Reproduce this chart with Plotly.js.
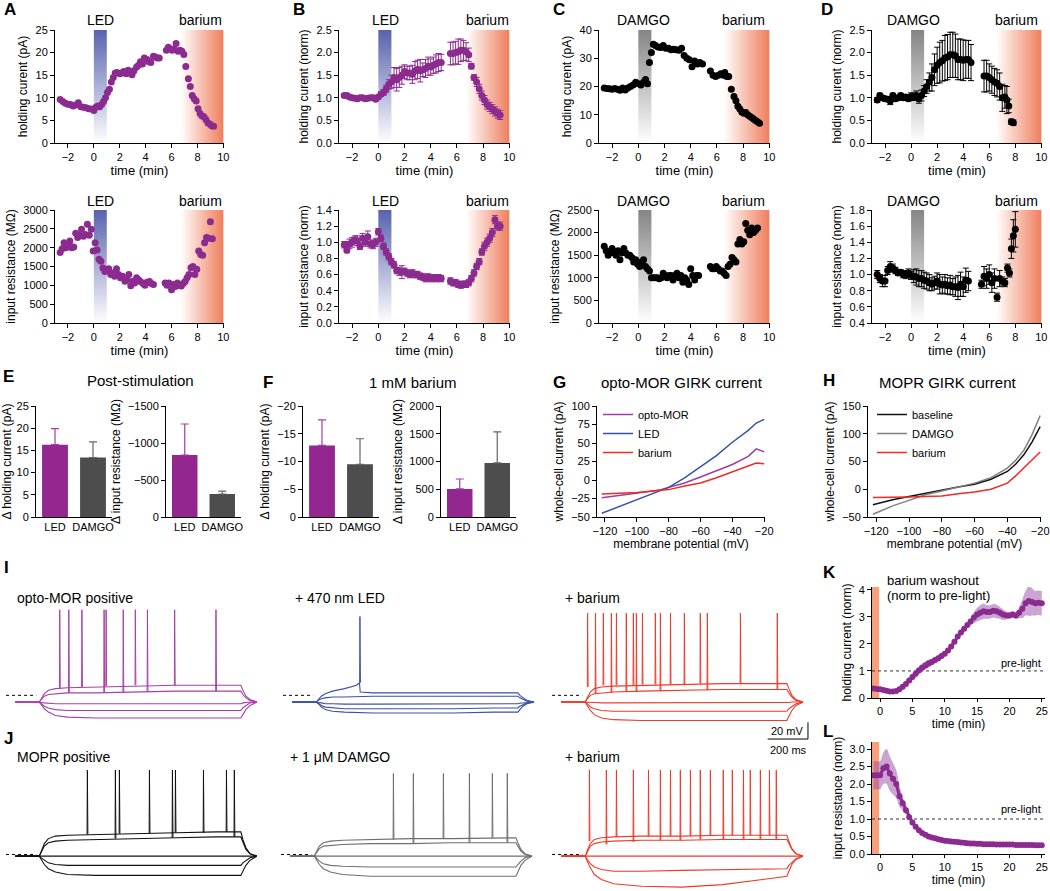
<!DOCTYPE html>
<html><head><meta charset="utf-8">
<script src="https://cdn.plot.ly/plotly-3.0.1.min.js"></script>
<style>html,body{margin:0;padding:0;background:#fff}#chart{width:1050px;height:891px}</style>
</head><body><div id="chart"></div>
<script>
// ---------------- DATA ----------------
// Panel A (single cell, opto-MOR + LED)
const aTopT = [-2.6,-2.4,-2.2,-2.0,-1.8,-1.6,-1.4,-1.2,-1.0,-0.8,-0.6,-0.4,-0.2,0.0,0.15,0.3,0.45,0.6,0.75,0.9,1.05,1.2,1.35,1.5,1.65,1.8,2.0,2.15,2.3,2.5,2.65,2.8,2.95,3.1,3.3,3.45,3.6,3.75,3.9,4.1,4.25,4.4,4.6,4.75,4.9,5.05,5.6,5.75,5.9,6.05,6.2,6.35,6.5,6.65,6.8,6.95,7.1,7.3,7.45,7.6,7.75,7.9,8.05,8.2,8.35,8.5,8.65,8.8,8.95,9.1,9.25];
const aTopHolding = [9.6,9.2,8.8,8.6,8.5,8.2,8.4,8.9,8.0,7.9,7.8,7.6,7.5,7.2,7.9,8.2,8.0,8.5,9.2,10.0,11.2,11.9,13.5,14.5,15.5,15.6,15.3,15.5,15.8,15.3,16.1,15.8,15.1,16.0,16.8,17.2,18.0,17.5,18.8,18.5,18.0,17.8,19.2,19.0,18.8,18.8,20.5,21.2,20.8,20.5,20.8,22.0,20.3,20.5,20.3,19.6,16.9,14.2,12.5,10.5,9.8,9.3,7.6,6.5,6.0,5.8,5.2,4.5,4.2,3.8,3.7];
const aBotT = [-2.6,-2.45,-2.3,-2.15,-2.0,-1.85,-1.7,-1.55,-1.4,-1.25,-1.1,-0.95,-0.8,-0.65,-0.5,-0.35,-0.2,-0.05,0.1,0.25,0.4,0.55,0.7,0.85,1.0,1.15,1.3,1.45,1.6,1.75,1.9,2.05,2.2,2.4,2.55,2.7,2.85,3.0,3.15,3.3,3.45,3.6,3.8,3.95,4.1,4.3,4.45,4.6,5.5,5.65,5.8,6.0,6.15,6.3,6.45,6.6,6.75,6.9,7.05,7.2,7.35,7.5,7.65,7.8,7.95,8.1,8.25,8.4,8.55,8.7,8.85,9.0,9.15];
const aBotRes = [1870,1970,2130,2000,2040,2180,2000,2020,2380,2270,2330,2490,2300,2350,2620,2330,2490,1910,2130,1940,1690,1640,1460,1370,1400,1440,1290,1330,1240,1440,1290,1200,1240,1110,1150,1290,990,1110,1060,1200,1150,1100,1050,1000,1080,1100,1050,1020,1060,1000,1060,880,1020,970,1060,1000,980,1050,1100,1200,1290,1470,1500,1290,1430,1910,1820,1800,2130,2270,2250,2690,2240];

// Panel B (group mean +/- SEM, opto-MOR)
const bT = [-2.6,-2.4,-2.2,-2.0,-1.8,-1.6,-1.4,-1.2,-1.0,-0.8,-0.6,-0.4,-0.2,0.0,0.2,0.4,0.6,0.8,1.0,1.2,1.4,1.6,1.8,2.0,2.2,2.4,2.6,2.8,3.0,3.2,3.4,3.6,3.8,4.0,4.2,4.4,4.6,4.8,5.5,5.7,5.9,6.1,6.3,6.5,6.7,6.9,7.1,7.3,7.5,7.7,7.9,8.1,8.3,8.5,8.7,8.9,9.1,9.3];
const bTopMean = [1.05,1.05,1.02,1.0,0.99,0.98,1.0,1.0,0.98,0.99,1.0,1.0,0.97,1.02,1.08,1.12,1.2,1.3,1.35,1.45,1.4,1.45,1.5,1.58,1.55,1.55,1.52,1.6,1.63,1.6,1.62,1.65,1.7,1.68,1.72,1.75,1.78,1.78,1.98,1.98,2.0,2.02,2.05,2.05,2.02,1.95,1.7,1.45,1.35,1.2,1.05,0.95,0.85,0.8,0.75,0.7,0.65,0.62];
const bTopSem = [0.03,0.03,0.03,0.03,0.03,0.03,0.03,0.03,0.03,0.03,0.03,0.03,0.03,0.04,0.05,0.06,0.08,0.1,0.15,0.22,0.25,0.22,0.2,0.15,0.15,0.15,0.2,0.2,0.2,0.25,0.15,0.2,0.2,0.18,0.18,0.2,0.2,0.18,0.25,0.25,0.25,0.28,0.25,0.22,0.2,0.15,0.06,0.06,0.1,0.1,0.1,0.1,0.1,0.1,0.1,0.1,0.1,0.1];
const bBotMean = [0.97,0.9,0.98,1.0,1.03,1.02,0.95,1.05,1.0,1.07,0.98,0.97,1.0,1.13,1.05,0.95,0.88,0.82,0.76,0.72,0.65,0.64,0.63,0.64,0.62,0.6,0.62,0.6,0.6,0.58,0.57,0.55,0.57,0.55,0.56,0.55,0.56,0.55,0.52,0.5,0.5,0.48,0.47,0.48,0.48,0.5,0.55,0.62,0.7,0.76,0.88,0.95,1.0,1.05,1.12,1.28,1.2,1.2];
const bBotSem = [0.04,0.03,0.06,0.06,0.05,0.06,0.04,0.06,0.05,0.07,0.05,0.05,0.05,0.04,0.04,0.04,0.04,0.04,0.04,0.04,0.04,0.05,0.08,0.04,0.04,0.04,0.04,0.04,0.04,0.04,0.04,0.04,0.04,0.04,0.04,0.04,0.04,0.04,0.04,0.04,0.04,0.04,0.04,0.04,0.04,0.04,0.04,0.04,0.04,0.04,0.04,0.05,0.05,0.05,0.05,0.05,0.05,0.05];

// Panel C (single cell, MOPR + DAMGO)
const cTopT = [-2.6,-2.4,-2.2,-2.0,-1.8,-1.6,-1.4,-1.2,-1.0,-0.8,-0.6,-0.4,-0.2,0.0,0.2,0.4,0.55,0.7,0.85,1.0,1.15,1.3,1.5,1.7,1.9,2.1,2.3,2.5,2.7,2.9,3.1,3.3,3.5,3.7,3.9,4.1,4.3,4.5,4.7,4.9,5.5,5.7,5.9,6.1,6.3,6.5,6.6,6.75,6.9,7.1,7.3,7.45,7.6,7.75,7.9,8.05,8.2,8.35,8.5,8.65,8.8,8.95,9.1,9.25];
const cTopHolding = [19.5,19.3,19.2,19.0,19.3,19.0,18.7,19.5,18.8,19.5,20.0,20.5,21.5,21.0,20.5,21.5,22.5,21.0,28.5,32.0,35.0,34.5,34.0,33.8,34.5,33.5,33.5,33.0,33.2,33.0,32.8,33.5,31.0,30.0,29.5,27.0,29.0,28.0,28.5,28.0,25.5,24.0,23.5,24.0,24.5,24.0,25.0,23.5,23.5,19.0,16.5,15.0,13.0,12.0,11.0,10.5,10.8,10.0,9.5,9.0,8.5,8.0,7.5,7.0];
const cBotT = [-2.6,-2.45,-2.3,-2.15,-2.0,-1.85,-1.7,-1.55,-1.4,-1.25,-1.1,-0.95,-0.8,-0.65,-0.5,-0.35,-0.2,-0.05,0.1,0.25,0.4,0.55,0.7,0.85,1.0,1.15,1.3,1.45,1.6,1.75,1.9,2.05,2.2,2.35,2.5,2.65,2.8,2.95,3.1,3.25,3.4,3.55,3.7,3.85,4.0,4.15,4.3,4.45,4.6,5.5,5.65,5.8,5.95,6.1,6.25,6.4,6.55,6.7,6.85,7.0,7.15,7.3,7.45,7.6,7.75,7.9,8.05,8.2,8.35,8.5,8.65,8.8,8.95,9.1];
const cBotRes = [1700,1600,1500,1550,1650,1550,1500,1600,1400,1550,1650,1550,1500,1500,1450,1350,1400,1300,1250,1350,1400,1250,1200,1150,1000,1000,1000,1000,980,1000,1100,1050,1000,1050,1050,950,1050,1100,1000,1050,900,1000,950,850,1200,1050,950,1050,1050,1250,1200,1200,1250,1200,1150,1150,1100,1050,1250,1300,1450,1400,1350,1750,1850,1750,1800,2200,2050,1950,2100,2000,2050,2100];

// Panel D (group mean +/- SEM, MOPR)
const dTopT = [-2.6,-2.4,-2.2,-2.0,-1.8,-1.6,-1.4,-1.2,-1.0,-0.8,-0.6,-0.4,-0.2,0.0,0.2,0.4,0.6,0.8,1.0,1.2,1.4,1.6,1.8,2.0,2.2,2.4,2.6,2.8,3.0,3.2,3.4,3.6,3.8,4.0,4.2,4.4,4.6,5.6,5.8,6.0,6.2,6.4,6.6,6.8,7.0,7.2,7.35,7.5,7.7,7.85];
const dTopMean = [0.95,1.05,1.0,0.98,0.97,0.93,1.05,0.98,1.0,1.05,1.0,1.02,0.98,1.03,1.02,1.05,0.98,1.05,1.15,1.25,1.35,1.45,1.62,1.72,1.78,1.82,1.88,1.9,1.95,1.95,1.93,1.85,1.85,1.83,1.85,1.85,1.78,1.48,1.48,1.45,1.4,1.35,1.32,1.25,1.0,1.02,0.95,0.82,0.47,0.45];
const dTopSem = [0.05,0.05,0.05,0.05,0.05,0.08,0.05,0.05,0.05,0.05,0.05,0.05,0.05,0.08,0.08,0.1,0.1,0.12,0.12,0.15,0.2,0.3,0.35,0.4,0.45,0.45,0.5,0.5,0.5,0.5,0.48,0.45,0.45,0.45,0.42,0.42,0.4,0.35,0.35,0.3,0.3,0.3,0.3,0.3,0.3,0.25,0.3,0.15,0.06,0.06];
const dBotT = [-2.6,-2.4,-2.2,-2.0,-1.8,-1.6,-1.4,-1.2,-1.0,-0.8,-0.6,-0.4,-0.2,0.0,0.2,0.4,0.6,0.8,1.0,1.2,1.4,1.6,1.8,2.0,2.2,2.4,2.6,2.8,3.0,3.2,3.4,3.6,3.8,4.0,4.2,4.4,5.4,5.6,5.8,6.0,6.2,6.4,6.6,6.8,7.0,7.2,7.4,7.55,7.7,7.85,8.0];
const dBotMean = [1.0,0.95,0.92,0.92,1.05,1.1,1.08,1.05,1.02,1.03,1.0,1.0,1.02,0.99,0.98,0.97,0.95,0.95,0.93,0.92,0.9,0.88,0.9,0.92,0.88,0.87,0.88,0.86,0.87,0.85,0.85,0.84,0.88,0.85,0.93,0.92,0.88,0.98,0.95,1.0,0.9,0.95,0.72,0.95,0.92,0.9,1.08,1.02,1.32,1.48,1.56];
const dBotSem = [0.05,0.05,0.07,0.07,0.05,0.06,0.05,0.04,0.03,0.03,0.04,0.05,0.05,0.05,0.08,0.1,0.1,0.1,0.1,0.1,0.1,0.08,0.08,0.1,0.12,0.1,0.12,0.1,0.12,0.1,0.12,0.15,0.15,0.12,0.15,0.12,0.05,0.12,0.12,0.12,0.12,0.12,0.05,0.1,0.05,0.05,0.05,0.05,0.12,0.2,0.22];

// Treatment windows (min)
const stimWindow = [0, 1];
const bariumWindowAB = [6.7, 10];
const bariumWindowCD = [6.5, 10];

// Panels E, F (bar summaries)
const barCats = ['LED', 'DAMGO'];
const eHoldMean = [16.3, 13.4], eHoldErr = [3.6, 3.5];
const eResMean = [-838, -311], eResErr = [419, 40];
const fHoldMean = [-12.9, -9.5], fHoldErr = [4.6, 4.6];
const fResMean = [505, 975], fResErr = [180, 560];

// Panels G, H (I-V curves)
const gV = [-122,-110,-100,-90,-85,-80,-70,-60,-50,-40,-30,-25,-20];
const gOpto = [-24,-21,-18,-15,-13,-10,-4,4,12,21,32,42,38];
const gLED = [-45,-35,-27,-19,-15,-10,3,18,33,51,67,77,82];
const gBarium = [-19,-18,-17,-15,-14,-13,-8,-4,3,11,18,23,22];
const hV = [-122,-110,-100,-90,-80,-70,-60,-50,-40,-35,-30,-25,-20];
const hBaseline = [-28,-19,-13,-7,-1,4,9,18,32,45,62,85,113];
const hDAMGO = [-45,-30,-20,-10,-3,4,11,21,38,52,70,98,133];
const hBarium = [-15,-15,-14,-13,-12,-8,-5,0,11,24,38,52,67];

// Panels K, L (barium washout, mean +/- SEM)
const klT = [-1,-0.5,0,0.5,1,1.5,2,2.5,3,3.5,4,4.5,5,5.5,6,6.5,7,7.5,8,8.5,9,9.5,10,10.5,11,11.5,12,12.5,13,13.5,14,14.5,15,15.5,16,16.5,17,17.5,18,18.5,19,19.5,20,20.5,21,21.5,22,22.5,23,23.5,24,24.5,25];
const kMean = [0.35,0.33,0.32,0.3,0.27,0.24,0.24,0.26,0.32,0.42,0.52,0.65,0.78,0.9,1.02,1.12,1.2,1.27,1.33,1.4,1.47,1.55,1.63,1.75,1.9,2.08,2.27,2.42,2.56,2.7,2.83,2.97,3.08,3.15,3.2,3.18,3.18,3.22,3.2,3.15,3.08,3.05,3.05,3.08,3.05,3.15,3.3,3.5,3.58,3.55,3.5,3.52,3.5];
const kSem = [0.06,0.06,0.06,0.06,0.06,0.06,0.06,0.06,0.06,0.07,0.08,0.1,0.12,0.15,0.15,0.15,0.15,0.15,0.12,0.12,0.12,0.12,0.1,0.1,0.1,0.1,0.1,0.1,0.1,0.1,0.12,0.2,0.25,0.28,0.28,0.25,0.25,0.25,0.25,0.22,0.2,0.15,0.12,0.12,0.12,0.2,0.35,0.45,0.55,0.5,0.45,0.45,0.45];
const lMean = [2.25,2.25,2.25,2.45,2.5,2.3,2.15,2.0,1.65,1.45,1.25,1.05,0.9,0.78,0.68,0.6,0.55,0.5,0.47,0.45,0.42,0.4,0.38,0.37,0.36,0.35,0.34,0.33,0.32,0.31,0.3,0.3,0.29,0.29,0.28,0.28,0.28,0.28,0.27,0.27,0.27,0.27,0.27,0.27,0.26,0.26,0.26,0.26,0.26,0.26,0.25,0.25,0.25];
const lSem = [0.4,0.4,0.4,0.45,0.5,0.5,0.45,0.4,0.3,0.2,0.12,0.08,0.06,0.05,0.05,0.05,0.05,0.05,0.05,0.05,0.05,0.05,0.05,0.04,0.04,0.04,0.04,0.04,0.04,0.04,0.04,0.04,0.04,0.04,0.04,0.04,0.04,0.04,0.04,0.04,0.04,0.04,0.04,0.04,0.04,0.04,0.04,0.04,0.04,0.04,0.04,0.04,0.04];
const bariumWashWindow = [-1.25, -0.15];
const preLight = 1;

// Panels I, J (current-clamp sweeps, ms / mV)
const stepT = [0,120,130,145,165,200,260,400,600,800,1000,1120,1130,1145,1165,1200];
const i1Sweep1 = [-70,-70,-73,-78,-82,-86,-88,-89,-89,-89,-89,-89,-85,-79,-74,-70];
const i1Sweep2 = [-70,-70,-72,-75,-77,-79,-80,-80,-80,-80,-80,-80,-77,-74,-71,-70];
const i1Sweep3 = [-70,-70,-70.5,-71,-71.5,-72,-72,-72,-72,-72,-72,-72,-71,-70.5,-70,-70];
const i1Sweep4 = [-70,-70,-67,-63,-61,-60,-59,-59,-58,-57,-57,-57,-61,-65,-68,-70];
const i1Sweep5 = [-70,-70,-66,-60,-56,-54,-53,-52,-51,-50,-50,-50,-56,-63,-67,-70];
const i1SpikeT = [220,265,330,440,450,535,595,655,790,995];
const i1SpikeBase = [-53,-59,-52,-58,-51,-58,-50,-57,-50,-57];
const i2Sweep1 = [-70,-70,-72,-76,-79,-81,-82,-83,-83,-83,-82,-82,-79,-75,-72,-70];
const i2Sweep2 = [-70,-70,-71.5,-74,-76,-77,-78,-78,-78,-78,-77,-77,-75,-73,-71,-70];
const i2Sweep3 = [-70,-70,-70.5,-71,-72,-72,-72.5,-72.5,-72.5,-72,-72,-72,-71.5,-71,-70.5,-70];
const i2Sweep4 = [-70,-70,-68,-66,-65,-64,-64,-63,-63,-63,-63,-63,-65,-67,-69,-70];
const i2Sweep5T = [0,120,130,145,165,200,260,320,334,338,400,600,800,1000,1120,1130,1145,1165,1200];
const i2Sweep5 = [-70,-70,-67,-63,-60,-57,-54,-50,-47,-58,-59,-59,-59,-59,-59,-62,-65,-68,-70];
const i2SpikeT = [335];
const i2SpikeBase = [-47];
const i3Sweep1 = [-70,-70,-74,-80,-85,-89,-91,-92,-92,-92,-92,-92,-87,-80,-74,-70];
const i3Sweep2 = [-70,-70,-72,-76,-78,-80,-81,-81,-81,-81,-81,-81,-78,-75,-72,-70];
const i3Sweep3 = [-70,-70,-70,-70.5,-70.5,-71,-71,-71,-71,-71,-71,-71,-70.5,-70,-70,-70];
const i3Sweep4 = [-70,-70,-66,-62,-60,-59,-58,-57,-56,-55,-55,-55,-59,-64,-68,-70];
const i3Sweep5 = [-70,-70,-65,-58,-54,-52,-51,-50,-49,-48,-48,-48,-54,-62,-67,-70];
const i3SpikeT = [130,208,273,357,402,466,541,610,689,888,169,248,322,372,491,724,1071];
const i3SpikeBase = [-52,-50,-50,-50,-49,-49,-49,-49,-48,-48,-60,-59,-58,-58,-57,-56,-55];
const j1Sweep1 = [-70,-70,-74,-80,-85,-89,-92,-93,-93,-93,-93,-93,-88,-81,-75,-70];
const j1Sweep2 = [-70,-70,-72,-75,-78,-80,-81,-81,-81,-81,-81,-81,-78,-75,-72,-70];
const j1Sweep3 = [-70,-70,-70,-70.5,-70.5,-70.5,-70.5,-70.5,-70.5,-70.5,-70.5,-70.5,-70,-70,-70,-70];
const j1Sweep4 = [-70,-70,-65,-58,-54,-52,-51,-50,-49,-48,-47,-47,-53,-62,-67,-70];
const j1Sweep5 = [-70,-70,-64,-55,-49,-46,-45,-44,-43,-42,-41,-41,-50,-60,-67,-70];
const j1SpikeT = [357,516,665,794,933,1047,496,779,1086];
const j1SpikeBase = [-44,-43,-43,-42,-42,-41,-49,-48,-47];
const j2Sweep1 = [-70,-70,-74,-80,-85,-89,-92,-94,-94,-94,-94,-94,-89,-81,-75,-70];
const j2Sweep2 = [-70,-70,-72,-76,-79,-81,-82,-83,-83,-83,-83,-83,-80,-76,-72,-70];
const j2Sweep3 = [-70,-70,-70,-70.5,-70.5,-70.5,-70.5,-70.5,-70.5,-70.5,-70.5,-70.5,-70,-70,-70,-70];
const j2Sweep4 = [-70,-70,-66,-61,-58,-57,-56,-55,-55,-54,-54,-54,-58,-64,-68,-70];
const j2Sweep5 = [-70,-70,-65,-58,-54,-52,-51,-50,-49,-49,-48,-48,-54,-62,-67,-70];
const j2SpikeT = [511,759,1002,610,888,1076];
const j2SpikeBase = [-50,-49,-48,-55,-54,-54];
const j3Sweep1 = [-70,-70,-76,-84,-92,-98,-103,-106,-107,-104,-98,-94,-88,-80,-74,-70];
const j3Sweep2 = [-70,-70,-74,-79,-83,-86,-88,-88,-87,-86,-85,-85,-81,-77,-73,-70];
const j3Sweep3 = [-70,-70,-70,-70,-70.5,-70.5,-70.5,-70.5,-70.5,-70.5,-70.5,-70.5,-70,-70,-70,-70];
const j3Sweep4 = [-70,-70,-65,-58,-55,-53,-52,-51,-51,-50,-50,-50,-55,-62,-67,-70];
const j3Sweep5 = [-70,-70,-63,-55,-50,-48,-47,-46,-46,-45,-45,-45,-52,-61,-67,-70];
const j3SpikeT = [139,273,432,541,640,739,848,937,1032,223,357,491,590,689,803,903,987,1066];
const j3SpikeBase = [-52,-47,-46,-46,-46,-45,-45,-45,-45,-56,-53,-51,-51,-50,-50,-50,-50,-50];
const spikePeakI = [40, 32, 36];
const spikePeakJ = [33, 29, 33];
const restRefT = [-45, 105];
const restRefI = -62, restRefJ = -68;
const scaleBarMs = 200, scaleBarMv = 20;

// ---------------- LAYOUT HELPERS ----------------
const W = 1050, H = 891;
const FONT = '"Liberation Sans", Arial, Helvetica, sans-serif';
const PURPLE = '#8C2B8F', BARPURPLE = '#93278F', BARGRAY = '#4D4D4D';
const traces = [];
const layout = {
  width: W, height: H, margin: {l:0, r:0, t:0, b:0},
  paper_bgcolor: '#fff', plot_bgcolor: 'rgba(0,0,0,0)',
  font: {family: FONT, color: '#000', size: 11},
  showlegend: true, hovermode: false, barmode: 'overlay',
  annotations: [], shapes: []
};
const AX = {showline:true, linecolor:'#000', linewidth:1, ticks:'outside', ticklen:4, tickwidth:1,
  tickcolor:'#000', showgrid:false, zeroline:false, fixedrange:true,
  tickfont:{size:11, family:FONT, color:'#000'}};
let axN = 0;
function addAxes(xpx, ypx, xopt, yopt) {
  axN++;
  const xs = axN === 1 ? 'x' : 'x' + axN, ys = axN === 1 ? 'y' : 'y' + axN;
  const xk = axN === 1 ? 'xaxis' : 'xaxis' + axN, yk = axN === 1 ? 'yaxis' : 'yaxis' + axN;
  layout[xk] = Object.assign({}, AX, {domain:[xpx[0]/W, xpx[1]/W], anchor:ys}, xopt);
  layout[yk] = Object.assign({}, AX, {domain:[1 - ypx[1]/H, 1 - ypx[0]/H], anchor:xs}, yopt);
  return {x: xs, y: ys};
}
function T(text, size, standoff) { return {text, font:{size:size, family:FONT, color:'#000'}, standoff:standoff}; }
function ann(text, xpx, ypx, size, xanchor, extra) {
  layout.annotations.push(Object.assign({text, x:xpx/W, y:1 - ypx/H, xref:'paper', yref:'paper',
    showarrow:false, xanchor:xanchor || 'center', yanchor:'middle',
    font:{size:size, family:FONT, color:'#000'}}, extra || {}));
}
function sc(ax, x, y, extra) {
  return Object.assign({type:'scatter', x, y, xaxis:ax.x, yaxis:ax.y, hoverinfo:'skip', showlegend:false}, extra);
}
function gradRect(ax, xr, yr, color, dir) {
  traces.push(sc(ax, [xr[0], xr[1], xr[1], xr[0], xr[0]], [yr[0], yr[0], yr[1], yr[1], yr[0]], {
    mode:'lines', fill:'toself', line:{width:0},
    fillgradient:{type:dir, colorscale:[[0,'rgba(255,255,255,1)'],[1,color]]}
  }));
}
const range = (a, b, s) => { const r = []; for (let v = a; v <= b + 1e-9; v += s) r.push(+v.toFixed(3)); return r; };

// ---------------- PANELS A–D ----------------
function timePanel(xpx, ypx, yr, ticks, fmt, ytitle, stimColor, barWin) {
  const ax = addAxes(xpx, ypx,
    {range:[-3, 10.05], tickvals:[-2,0,2,4,6,8,10], title:T('time (min)', 13, 2)},
    {range:yr, tickvals:ticks, tickformat:fmt, title:T(ytitle, 12, 5)});
  gradRect(ax, stimWindow, yr, stimColor, 'vertical');
  gradRect(ax, barWin, yr, '#F07E5C', 'horizontal');
  return ax;
}
const topY = [30, 143], botY = [210, 323];
const LEDBLUE = '#5762AD', DAMGOGRAY = '#858585';
const axA1 = timePanel([55,224], topY, [0,25], range(0,25,5), 'd', 'holding curent (pA)', LEDBLUE, bariumWindowAB);
traces.push(sc(axA1, aTopT, aTopHolding, {mode:'markers', marker:{color:PURPLE, size:7}}));
const axA2 = timePanel([55,224], botY, [0,3000], range(0,3000,500), 'd', 'input resistance (MΩ)', LEDBLUE, bariumWindowAB);
traces.push(sc(axA2, aBotT, aBotRes, {mode:'markers', marker:{color:PURPLE, size:7}}));

const axB1 = timePanel([339,510], topY, [0,2.5], range(0,2.5,0.5), '.1f', 'holding curent (norm)', LEDBLUE, bariumWindowAB);
traces.push(sc(axB1, bT, bTopMean, {mode:'markers', marker:{color:PURPLE, size:7},
  error_y:{type:'data', array:bTopSem, color:PURPLE, thickness:1, width:3}}));
const axB2 = timePanel([339,510], botY, [0,1.4], range(0,1.4,0.2), '.1f', 'input resistance (norm)', LEDBLUE, bariumWindowAB);
traces.push(sc(axB2, bT, bBotMean, {mode:'markers', marker:{color:PURPLE, size:7},
  error_y:{type:'data', array:bBotSem, color:PURPLE, thickness:1, width:3}}));

const axC1 = timePanel([599,770], topY, [0,40], range(0,40,10), 'd', 'holding curent (pA)', DAMGOGRAY, bariumWindowCD);
traces.push(sc(axC1, cTopT, cTopHolding, {mode:'markers', marker:{color:'#000', size:7}}));
const axC2 = timePanel([599,770], botY, [0,2500], range(0,2500,500), 'd', 'input resistance (MΩ)', DAMGOGRAY, bariumWindowCD);
traces.push(sc(axC2, cBotT, cBotRes, {mode:'markers', marker:{color:'#000', size:7}}));

const axD1 = timePanel([872,1042], topY, [0,2.5], range(0,2.5,0.5), '.1f', 'holding curent (norm)', DAMGOGRAY, bariumWindowCD);
traces.push(sc(axD1, dTopT, dTopMean, {mode:'markers', marker:{color:'#000', size:7},
  error_y:{type:'data', array:dTopSem, color:'#000', thickness:1, width:3}}));
const axD2 = timePanel([872,1042], botY, [0.4,1.8], range(0.4,1.8,0.2), '.1f', 'input resistance (norm)', DAMGOGRAY, bariumWindowCD);
traces.push(sc(axD2, dBotT, dBotMean, {mode:'markers', marker:{color:'#000', size:7},
  error_y:{type:'data', array:dBotSem, color:'#000', thickness:1, width:3}}));

// ---------------- PANELS E, F ----------------
const barY = [406, 517];
function barPanel(xpx, yr, ticks, ytitle, means, errs) {
  const ax = addAxes(xpx, barY,
    {type:'category', range:[-0.5,1.5], ticks:'', tickfont:{size:11, family:FONT, color:'#000'}},
    {range:yr, tickvals:ticks, title:T(ytitle, 12, 4)});
  const cols = [BARPURPLE, BARGRAY];
  barCats.forEach((c, i) => {
    const neg = means[i] < 0;
    traces.push({type:'bar', x:[c], y:[means[i]], xaxis:ax.x, yaxis:ax.y, width:0.68,
      marker:{color:cols[i], line:{width:0}}, hoverinfo:'skip', showlegend:false,
      error_y:{type:'data', symmetric:false, array:[neg ? 0 : errs[i]], arrayminus:[neg ? errs[i] : 0],
        color:cols[i] === BARPURPLE ? '#A040A0' : '#666', thickness:1.2, width:4}});
  });
  return ax;
}
barPanel([36,112], [0,25], range(0,25,5), 'Δ holding current (pA)', eHoldMean, eHoldErr);
barPanel([166,241], [0,-1500], [0,-500,-1000,-1500], 'Δ input resistance (MΩ)', eResMean, eResErr);
barPanel([303,379], [0,-20], [0,-5,-10,-15,-20], 'Δ holding current (pA)', fHoldMean, fHoldErr);
barPanel([441,516], [0,2000], range(0,2000,500), 'Δ input resistance (MΩ)', fResMean, fResErr);

// ---------------- PANELS G, H ----------------
const axG = addAxes([597,765], barY,
  {range:[-125,-19.5], tickvals:range(-120,-20,20), title:T('membrane potential (mV)', 12, 2)},
  {range:[-50,100], tickvals:range(-50,100,25), title:T('whole-cell current (pA)', 12, 4)});
traces.push(sc(axG, gV, gOpto, {mode:'lines', name:'opto-MOR', line:{color:'#9B3FA3', width:1.5}, showlegend:true, legend:'legend'}));
traces.push(sc(axG, gV, gLED, {mode:'lines', name:'LED', line:{color:'#3552A6', width:1.5}, showlegend:true, legend:'legend'}));
traces.push(sc(axG, gV, gBarium, {mode:'lines', name:'barium', line:{color:'#EE2B24', width:1.5}, showlegend:true, legend:'legend'}));
const axH = addAxes([868,1041], barY,
  {range:[-125,-19.5], tickvals:range(-120,-20,20), title:T('membrane potential (mV)', 12, 2)},
  {range:[-50,150], tickvals:range(-50,150,50), title:T('whole-cell current (pA)', 12, 4)});
traces.push(sc(axH, hV, hBaseline, {mode:'lines', name:'baseline', line:{color:'#111', width:1.5}, showlegend:true, legend:'legend2'}));
traces.push(sc(axH, hV, hDAMGO, {mode:'lines', name:'DAMGO', line:{color:'#808080', width:1.5}, showlegend:true, legend:'legend2'}));
traces.push(sc(axH, hV, hBarium, {mode:'lines', name:'barium', line:{color:'#EE2B24', width:1.5}, showlegend:true, legend:'legend2'}));
const LEG = {xanchor:'left', yanchor:'top', bgcolor:'rgba(0,0,0,0)', font:{size:11, family:FONT, color:'#000'},
  itemwidth:30, tracegroupgap:0, borderwidth:0, traceorder:'normal'};
layout.legend = Object.assign({x:598/W, y:1 - 400/H}, LEG);
layout.legend2 = Object.assign({x:872/W, y:1 - 400/H}, LEG);

// ---------------- PANELS K, L ----------------
function washPanel(ypx, yr, ticks, fmt, ytitle, mean, sem) {
  const ax = addAxes([872,1045], ypx,
    {range:[-1.25,25.5], tickvals:range(0,25,5), ticklen:3, title:T('time (min)', 12, 0)},
    {range:yr, tickvals:ticks, tickformat:fmt, title:T(ytitle, 12, 4)});
  layout.shapes.push({type:'rect', xref:ax.x, yref:ax.y + ' domain', x0:bariumWashWindow[0], x1:bariumWashWindow[1],
    y0:0, y1:1, fillcolor:'#F6A07C', line:{width:0}, layer:'below'});
  layout.shapes.push({type:'line', xref:ax.x + ' domain', yref:ax.y, x0:0, x1:1, y0:preLight, y1:preLight,
    line:{color:'#333', width:1, dash:'dot'}, layer:'below'});
  const lo = mean.map((m, i) => m - sem[i]), hi = mean.map((m, i) => m + sem[i]);
  traces.push(sc(ax, klT, lo, {mode:'lines', line:{width:0, shape:'spline'}}));
  traces.push(sc(ax, klT, hi, {mode:'lines', line:{width:0, shape:'spline'}, fill:'tonexty', fillcolor:'rgba(150,75,165,0.5)'}));
  traces.push(sc(ax, klT, mean, {mode:'lines+markers', line:{color:PURPLE, width:3}, marker:{color:PURPLE, size:6}}));
  return ax;
}
washPanel([587,698], [0,4.1], [0,1,2,3,4], 'd', 'holding current (norm)', kMean, kSem);
washPanel([742,854], [0,3.2], range(0,3,0.5), '.1f', 'input resistance (norm)', lMean, lSem);

// ---------------- PANELS I, J ----------------
function tracePanel(xpx, ypx, yr, sweeps, color, spikeT, spikeBase, peak, refV) {
  const ax = addAxes(xpx, ypx, {visible:false, range:[-60,1200]}, {visible:false, range:yr});
  traces.push(sc(ax, restRefT, [refV, refV], {mode:'lines', line:{color:'#000', width:1, dash:'dot'}}));
  sweeps.forEach(s => traces.push(sc(ax, s.t || stepT, s.v, {mode:'lines', line:{color, width:1.1}})));
  const sx = [], sy = [];
  spikeT.forEach((t, i) => { sx.push(t, t + 1.5, t + 4, null); sy.push(spikeBase[i], peak, spikeBase[i], null); });
  traces.push(sc(ax, sx, sy, {mode:'lines', line:{color, width:1}}));
  return ax;
}
const rowI = [593, 744], rowJ = [760, 889.6];
const yrI = [-120, 60], yrJ = [-110, 45];
tracePanel([3,257], rowI, yrI, [{v:i1Sweep1},{v:i1Sweep2},{v:i1Sweep3},{v:i1Sweep4},{v:i1Sweep5}], '#A640A8', i1SpikeT, i1SpikeBase, spikePeakI[0], restRefI);
tracePanel([280,534], rowI, yrI, [{v:i2Sweep1},{v:i2Sweep2},{v:i2Sweep3},{v:i2Sweep4},{t:i2Sweep5T, v:i2Sweep5}], '#3B50A8', i2SpikeT, i2SpikeBase, spikePeakI[1], restRefI);
tracePanel([549,803], rowI, yrI, [{v:i3Sweep1},{v:i3Sweep2},{v:i3Sweep3},{v:i3Sweep4},{v:i3Sweep5}], '#EE3A2A', i3SpikeT, i3SpikeBase, spikePeakI[2], restRefI);
tracePanel([3,257], rowJ, yrJ, [{v:j1Sweep1},{v:j1Sweep2},{v:j1Sweep3},{v:j1Sweep4},{v:j1Sweep5}], '#111', j1SpikeT, j1SpikeBase, spikePeakJ[0], restRefJ);
tracePanel([278,532], rowJ, yrJ, [{v:j2Sweep1},{v:j2Sweep2},{v:j2Sweep3},{v:j2Sweep4},{v:j2Sweep5}], '#6E6E6E', j2SpikeT, j2SpikeBase, spikePeakJ[1], restRefJ);
tracePanel([549,803], rowJ, yrJ, [{v:j3Sweep1},{v:j3Sweep2},{v:j3Sweep3},{v:j3Sweep4},{v:j3Sweep5}], '#EE3A2A', j3SpikeT, j3SpikeBase, spikePeakJ[2], restRefJ);
// scale bar
const axSB = addAxes([760,812], [716,752], {visible:false, range:[0,258]}, {visible:false, range:[0,43]});
traces.push(sc(axSB, [238 - scaleBarMs, 238, 238], [15.5, 15.5, 15.5 + scaleBarMv], {mode:'lines', line:{color:'#000', width:1}}));

// ---------------- TEXT ----------------
const L = 17;
[['A',2,10],['B',291,10],['C',551,10],['D',819,10],['E',1,376],['F',261,382],['G',551,382],['H',821,380],['I',2,567],['J',2,738],['K',821,572],['L',821,731]]
  .forEach(p => ann('<b>' + p[0] + '</b>', p[1], p[2], L, 'left'));
[[100,'LED'],[200,'barium'],[385,'LED'],[487,'barium'],[643,'DAMGO'],[743,'barium'],[913,'DAMGO'],[1016,'barium']]
  .forEach(p => { ann(p[1], p[0], 20, 14); ann(p[1], p[0], 201, 14); });
ann('Post-stimulation', 140, 381, 15);
ann('1 mM barium', 413, 382, 15);
ann('opto-MOR GIRK current', 682, 382, 15);
ann('MOPR GIRK current', 948, 382, 15);
ann('opto-MOR positive', 15, 598, 14, 'left');
ann('+ 470 nm LED', 293, 598, 14, 'left');
ann('+ barium', 563, 598, 14, 'left');
ann('MOPR positive', 15, 757, 14, 'left');
ann('+ 1 μM DAMGO', 288, 757, 14, 'left');
ann('+ barium', 563, 757, 14, 'left');
ann('20 mV', 805, 731, 11, 'right');
ann('200 ms', 809, 750, 11, 'right');
ann('barium washout', 885, 580, 13, 'left');
ann('(norm to pre-light)', 885, 595, 13, 'left');
ann('pre-light', 1043, 663, 11, 'right');
ann('pre-light', 1043, 809, 11, 'right');

Plotly.newPlot('chart', traces, layout, {staticPlot:true, displayModeBar:false});
</script></body></html>
